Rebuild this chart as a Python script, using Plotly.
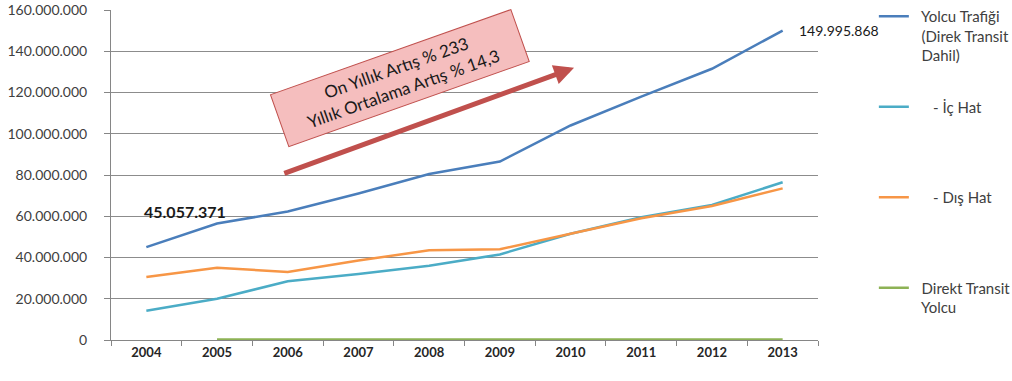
import plotly.graph_objects as go

years = [2004, 2005, 2006, 2007, 2008, 2009, 2010, 2011, 2012, 2013]
yolcu_trafigi = [45057371, 56500000, 62300000, 71000000, 80500000, 86500000,
                 104000000, 118000000, 131500000, 149995868]
ic_hat = [14200000, 20000000, 28500000, 32000000, 36000000, 41500000,
          51500000, 59500000, 65500000, 76500000]
dis_hat = [30500000, 35000000, 33000000, 38500000, 43500000, 44000000,
           51500000, 59000000, 65000000, 73500000]
transit_years = [2005, 2006, 2007, 2008, 2009, 2010, 2011, 2012, 2013]
direkt_transit = [300000, 300000, 300000, 300000, 300000, 300000, 300000, 300000, 300000]

S = "\u00a0\u00a0"
names = [f"{S}Yolcu Trafiği<br>{S}(Direk Transit<br>{S}Dahil)",
         f"{S}   - İç Hat<br> <br> ",
         f"{S}   - Dış Hat<br> <br> ",
         f"{S}Direkt Transit<br>{S}Yolcu"]
colors = ["#4A7EBB", "#4BACC6", "#F79646", "#8DB255"]

y_ticks = [0, 20000000, 40000000, 60000000, 80000000, 100000000,
           120000000, 140000000, 160000000]

FONT = "Lato, 'Open Sans', sans-serif"

fig = go.Figure()
series = [(years, yolcu_trafigi), (years, ic_hat), (years, dis_hat),
          (transit_years, direkt_transit)]
for i, ((xs, ys), nm, c) in enumerate(zip(series, names, colors)):
    fig.add_trace(go.Scatter(x=xs, y=ys, mode="lines", name=nm,
                             legendgroup=str(i),
                             line=dict(color=c, width=2.5)))

fig.add_annotation(x=years[0], y=yolcu_trafigi[0], text="<b>45.057.371</b>",
                   showarrow=False, xanchor="left", yanchor="bottom",
                   xshift=-4, yshift=24,
                   font=dict(family=FONT, size=16, color="#1a1a1a"))
fig.add_annotation(x=years[-1], y=yolcu_trafigi[-1], text="149.995.868",
                   showarrow=False, xanchor="left", yanchor="middle",
                   xshift=14, yshift=0,
                   font=dict(family=FONT, size=14, color="#1a1a1a"))

# trend arrow
fig.add_annotation(x=2010.05, y=132000000, ax=2005.93, ay=80500000,
                   axref="x", ayref="y", xref="x", yref="y",
                   showarrow=True, arrowhead=2, arrowsize=0.8, arrowwidth=5,
                   arrowcolor="#C0504D", text="")

# rotated label box
fig.add_annotation(x=2007.59, y=126800000, xref="x", yref="y",
                   text="On Yıllık Artış % 233<br>Yıllık Ortalama Artış % 14,3",
                   showarrow=False, textangle=-19.5,
                   width=244, height=44,
                   bgcolor="#F5BEBE", bordercolor="#C0504D", borderwidth=1,
                   borderpad=5,
                   font=dict(family=FONT, size=17, color="#1a1a1a"))

fig.update_layout(
    width=1012, height=381,
    margin=dict(l=111, r=194, t=0, b=41, autoexpand=False),
    paper_bgcolor="white", plot_bgcolor="white",
    separators=",.",
    font=dict(family=FONT, size=13, color="#404040"),
    showlegend=True,
    legend=dict(x=1.079, y=1.0, xanchor="left", yanchor="top",
                valign="top", tracegroupgap=29, itemwidth=30,
                font=dict(family=FONT, size=15, color="#404040"),
                bgcolor="rgba(0,0,0,0)"),
)
fig.update_xaxes(range=[2003.5, 2013.5], tickmode="array", tickvals=years,
                 ticktext=[f"<b>{y}</b>" for y in years], ticks="",
                 showgrid=False, showline=True, linecolor="#868686",
                 tickfont=dict(family=FONT, size=13, color="#262626"),
                 minor=dict(tick0=2003.5, dtick=1, ticks="outside", ticklen=5,
                            tickcolor="#868686", showgrid=False),
                 zeroline=False)
fig.update_yaxes(range=[0, 160000000], domain=[0, 330 / 340],
                 tickmode="array", tickvals=y_ticks,
                 tickformat=",d", showgrid=True, gridcolor="#8C8C8C",
                 gridwidth=1, showline=True, linecolor="#868686",
                 ticks="outside", ticklen=6, tickcolor="#868686",
                 ticklabelstandoff=14,
                 tickfont=dict(family=FONT, size=14, color="#404040"),
                 zeroline=False)

fig.write_html("out.html")
